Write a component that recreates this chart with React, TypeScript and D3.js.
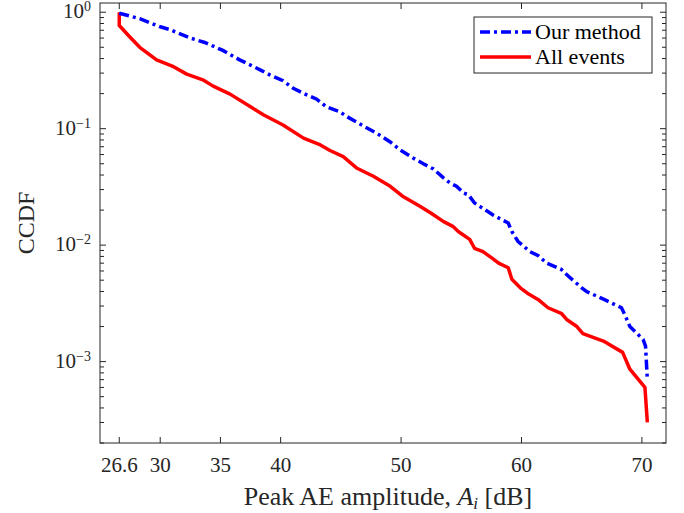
import React from "react";
import * as d3 from "d3";

// Peak AE amplitude [dB] and CCDF values
const ourMethodAmp = [
  26.6, 28.3, 30.0, 30.8, 32.5, 33.7, 35.2, 36.6, 38.3, 39.1, 40.2, 41.05, 41.9, 43.0, 43.8, 44.9,
  45.5, 46.9, 48.0, 49.1, 49.9, 51.0, 51.85, 52.7, 53.5, 54.1, 54.6, 55.2, 55.6, 56.1, 57.7, 58.9,
  59.2, 59.7, 60.7, 61.4, 62.1, 63.3, 63.9, 65.0, 65.4, 66.9, 68.3, 68.6, 69.0, 70.1, 70.3, 70.45,
];
const ourMethodCcdf = [
  0.98, 0.88, 0.75, 0.71, 0.6, 0.55, 0.47, 0.39, 0.32, 0.29, 0.258, 0.222, 0.201, 0.179, 0.154, 0.14,
  0.127, 0.105, 0.091, 0.077, 0.066, 0.056, 0.05, 0.045, 0.038, 0.034, 0.032, 0.028, 0.027, 0.023,
  0.018, 0.0155, 0.0131, 0.0108, 0.0088, 0.0081, 0.007, 0.0062, 0.0054, 0.0043, 0.004, 0.0034,
  0.0029, 0.0025, 0.002, 0.00155, 0.00136, 0.0007,
];
const allEventsAmp = [
  26.6, 26.6, 27.5, 28.3, 29.7, 31.0, 32.2, 33.6, 34.4, 35.8, 37.5, 38.6, 40.2, 41.9, 43.3, 44.1,
  45.2, 46.3, 47.7, 49.1, 50.2, 51.6, 52.5, 53.5, 54.3, 54.75, 55.7, 56.1, 56.8, 57.5, 58.1, 58.9,
  59.2, 59.9, 60.6, 61.4, 62.2, 63.3, 63.75, 64.6, 65.1, 66.8, 68.4, 69.0, 70.25, 70.45,
];
const allEventsCcdf = [
  1.0, 0.77, 0.61, 0.5, 0.39, 0.345, 0.294, 0.261, 0.232, 0.198, 0.154, 0.131, 0.1075, 0.083,
  0.0725, 0.065, 0.0575, 0.046, 0.039, 0.032, 0.026, 0.0215, 0.0188, 0.016, 0.0145, 0.0131, 0.0112,
  0.0094, 0.0088, 0.0078, 0.007, 0.0064, 0.0051, 0.0043, 0.0038, 0.0034, 0.0029, 0.0026, 0.0023,
  0.002, 0.00174, 0.0015, 0.0012, 0.00086, 0.0006, 0.0003,
];

const xTicks = [26.6, 30, 35, 40, 50, 60, 70];
const yDecades = [1, 0.1, 0.01, 0.001];
const yExponents = ["0", "\u22121", "\u22122", "\u22123"];

const width = 684;
const height = 513;
const margin = { top: 3, right: 18, bottom: 70, left: 100 };
const font = "'Liberation Serif', 'DejaVu Serif', serif";
const axisColor = "#262626";

export default function App() {
  const x = d3.scaleLinear().domain([25, 72]).range([margin.left, width - margin.right]);
  const y = d3
    .scaleLog()
    .domain([2e-4, 1.2])
    .range([height - margin.bottom, margin.top]);

  const line = d3
    .line<[number, number]>()
    .x((d) => x(d[0]))
    .y((d) => y(d[1]));

  const ourPts = ourMethodAmp.map((a, i) => [a, ourMethodCcdf[i]] as [number, number]);
  const allPts = allEventsAmp.map((a, i) => [a, allEventsCcdf[i]] as [number, number]);

  const x0 = margin.left;
  const x1 = width - margin.right;
  const y0 = height - margin.bottom;
  const y1 = margin.top;

  // minor log ticks (2..9 of each decade inside the domain)
  const minor: number[] = [];
  for (let e = -4; e <= 0; e++) {
    for (let m = 2; m <= 9; m++) {
      const v = m * Math.pow(10, e);
      if (v >= 2e-4 && v <= 1.2) minor.push(v);
    }
  }

  return (
    <svg
      width={width}
      height={height}
      style={{ position: "absolute", left: 0, top: 0, background: "#fff" }}
    >
      <rect x={0} y={0} width={width} height={height} fill="#fff" />

      <path d={line(allPts) || ""} fill="none" stroke="#ff0000" strokeWidth={3.5} strokeLinejoin="round" />
      <path
        d={line(ourPts) || ""}
        fill="none"
        stroke="#0000ff"
        strokeWidth={3.5}
        strokeDasharray="10 4 3 4"
      />

      {/* box */}
      <rect x={x0} y={y1} width={x1 - x0} height={y0 - y1} fill="none" stroke={axisColor} strokeWidth={1} />

      {/* x ticks */}
      {xTicks.map((t) => (
        <g key={"xt" + t}>
          <line x1={x(t)} x2={x(t)} y1={y0} y2={y0 - 6} stroke={axisColor} />
          <line x1={x(t)} x2={x(t)} y1={y1} y2={y1 + 6} stroke={axisColor} />
          <text x={x(t)} y={y0 + 29} textAnchor="middle" fontFamily={font} fontSize={21} fill="#262626">
            {t}
          </text>
        </g>
      ))}

      {/* y ticks */}
      {yDecades.map((t, i) => (
        <g key={"yt" + t}>
          <line x1={x0} x2={x0 + 6} y1={y(t)} y2={y(t)} stroke={axisColor} />
          <line x1={x1} x2={x1 - 6} y1={y(t)} y2={y(t)} stroke={axisColor} />
          <text x={x0 - 9} y={y(t) + 6} textAnchor="end" fontFamily={font} fontSize={21} fill="#262626">
            10
            <tspan fontSize={14} dy={-7}>
              {yExponents[i]}
            </tspan>
          </text>
        </g>
      ))}
      {minor.map((t) => (
        <g key={"ym" + t}>
          <line x1={x0} x2={x0 + 4} y1={y(t)} y2={y(t)} stroke={axisColor} />
          <line x1={x1} x2={x1 - 4} y1={y(t)} y2={y(t)} stroke={axisColor} />
        </g>
      ))}

      {/* axis labels */}
      <text x={(x0 + x1) / 2 + 5} y={y0 + 62} textAnchor="middle" fontFamily={font} fontSize={26} fill="#262626">
        Peak AE amplitude,{" "}
        <tspan fontStyle="italic">A</tspan>
        <tspan fontStyle="italic" fontSize={17} dy={4}>
          i
        </tspan>
        <tspan dy={-4}> [dB]</tspan>
      </text>
      <text
        transform={`translate(34, ${(y0 + y1) / 2}) rotate(-90)`}
        textAnchor="middle"
        fontFamily={font}
        fontSize={24}
        fill="#262626"
      >
        CCDF
      </text>

      {/* legend */}
      <g>
        <rect x={474} y={17} width={178} height={56} fill="#fff" stroke={axisColor} strokeWidth={1} />
        <line x1={480} x2={531} y1={32} y2={32} stroke="#0000ff" strokeWidth={3.5} strokeDasharray="10 4 3 4" />
        <line x1={480} x2={531} y1={57} y2={57} stroke="#ff0000" strokeWidth={3.5} />
        <text x={535} y={39} fontFamily={font} fontSize={22} fill="#000">
          Our method
        </text>
        <text x={535} y={64} fontFamily={font} fontSize={22} fill="#000">
          All events
        </text>
      </g>
    </svg>
  );
}
